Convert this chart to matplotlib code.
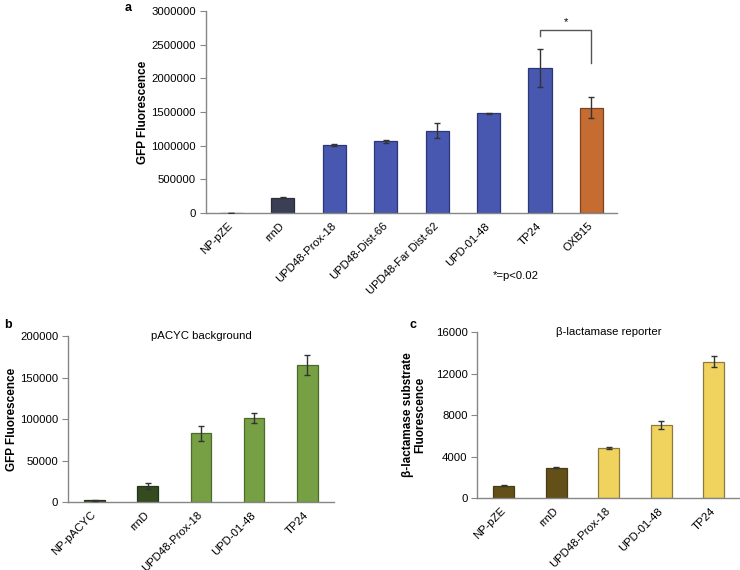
import numpy as np
import matplotlib
matplotlib.use("Agg")
import matplotlib.pyplot as plt
from matplotlib.ticker import FormatStrFormatter

plt.rcParams['font.family'] = ['Liberation Sans', 'DejaVu Sans']

# panel a: GFP fluorescence, pZE background
labels_a = ['NP-pZE', 'rrnD', 'UPD48-Prox-18', 'UPD48-Dist-66', 'UPD48-Far Dist-62',
            'UPD-01-48', 'TP24', 'OXB15']
vals_a = [5000, 230000, 1010000, 1065000, 1225000, 1482000, 2150000, 1565000]
err_a = [3000, 8000, 10000, 25000, 115000, 8000, 285000, 160000]
cols_a = ['#3a3f55', '#3a3f55', '#4858b0', '#4858b0', '#4858b0', '#4858b0', '#4858b0', '#c46c32']
edge_a = ['#2a2d3d', '#2a2d3d', '#2c3775', '#2c3775', '#2c3775', '#2c3775', '#2c3775', '#7a4420']

# panel b: pACYC background
labels_b = ['NP-pACYC', 'rrnD', 'UPD48-Prox-18', 'UPD-01-48', 'TP24']
vals_b = [2500, 19500, 82800, 102000, 165000]
err_b = [500, 4000, 8500, 6000, 12000]
cols_b = ['#344a1f', '#344a1f', '#76a043', '#76a043', '#76a043']
edge_b = ['#25351a', '#25351a', '#4d6a2b', '#4d6a2b', '#4d6a2b']

# panel c: beta-lactamase reporter
labels_c = ['NP-pZE', 'rrnD', 'UPD48-Prox-18', 'UPD-01-48', 'TP24']
vals_c = [1200, 2950, 4850, 7050, 13170]
err_c = [30, 40, 130, 350, 550]
cols_c = ['#634f18', '#634f18', '#efd35e', '#efd35e', '#efd35e']
edge_c = ['#4a3b12', '#4a3b12', '#8c7b3c', '#8c7b3c', '#8c7b3c']

fs = 8.2
spine_col = '#868686'

fig = plt.figure(figsize=(7.4, 5.7), dpi=100)


def style(ax, labels, ymax, ystep):
    x = np.arange(len(labels))
    ax.set_xlim(-0.5, len(labels) - 0.5)
    ax.set_ylim(0, ymax)
    ax.set_yticks(np.arange(0, ymax + 1, ystep))
    ax.yaxis.set_major_formatter(FormatStrFormatter('%d'))
    ax.set_xticks(x)
    ax.set_xticklabels(labels, rotation=45, ha='right', va='center',
                       rotation_mode='anchor', fontsize=fs)
    ax.tick_params(axis='x', length=0, pad=8)
    ax.tick_params(axis='y', length=4, width=0.8, color=spine_col, labelsize=fs, pad=3)
    for s in ['top', 'right']:
        ax.spines[s].set_visible(False)
    for s in ['left', 'bottom']:
        ax.spines[s].set_color(spine_col)
        ax.spines[s].set_linewidth(1.0)


def bars(ax, vals, errs, cols, edges, width):
    x = np.arange(len(vals))
    ax.bar(x, vals, width=width, color=cols, edgecolor=edges, linewidth=0.9, zorder=2)
    ax.errorbar(x, vals, yerr=errs, fmt='none', ecolor='#333333', elinewidth=1.0,
                capsize=2.5, capthick=1.0, zorder=3)


# ---- a ----
ax_a = fig.add_axes([0.278, 0.626, 0.556, 0.355])
bars(ax_a, vals_a, err_a, cols_a, edge_a, 0.45)
style(ax_a, labels_a, 3000000, 500000)
# significance bracket TP24 vs OXB15
ax_a.plot([6, 6, 7, 7], [2620000, 2710000, 2710000, 2220000], color='#555555', lw=1.0)
ax_a.text(6.5, 2840000, '*', ha='center', va='center', fontsize=fs)
fig.text(143 / 740, 1 - 112 / 570, 'GFP Fluorescence', rotation=90, ha='center',
         va='center', fontsize=8.5, fontweight='bold')
fig.text(128 / 740, 1 - 8 / 570, 'a', ha='center', va='center', fontsize=9, fontweight='bold')
fig.text(516 / 740, 1 - 276 / 570, '*=p<0.02', ha='center', va='center', fontsize=fs)

# ---- b ----
ax_b = fig.add_axes([0.092, 0.119, 0.359, 0.291])
bars(ax_b, vals_b, err_b, cols_b, edge_b, 0.39)
style(ax_b, labels_b, 200000, 50000)
ax_b.text(0.5, 1.0, 'pACYC background', transform=ax_b.transAxes, ha='center',
          va='center', fontsize=8.2)
fig.text(12 / 740, 1 - 419 / 570, 'GFP Fluorescence', rotation=90, ha='center',
         va='center', fontsize=8.5, fontweight='bold')
fig.text(8 / 740, 1 - 325 / 570, 'b', ha='center', va='center', fontsize=9, fontweight='bold')

# ---- c ----
ax_c = fig.add_axes([0.645, 0.126, 0.355, 0.291])
bars(ax_c, vals_c, err_c, cols_c, edge_c, 0.4)
style(ax_c, labels_c, 16000, 4000)
ax_c.text(0.5, 1.0, 'β-lactamase reporter', transform=ax_c.transAxes, ha='center',
          va='center', fontsize=8.2)
fig.text(414 / 740, 1 - 415 / 570, 'β-lactamase substrate\nFluorescence', rotation=90,
         ha='center', va='center', fontsize=8.5, fontweight='bold', linespacing=1.1)
fig.text(413 / 740, 1 - 325 / 570, 'c', ha='center', va='center', fontsize=9, fontweight='bold')

fig.savefig('out.png', dpi=100)
